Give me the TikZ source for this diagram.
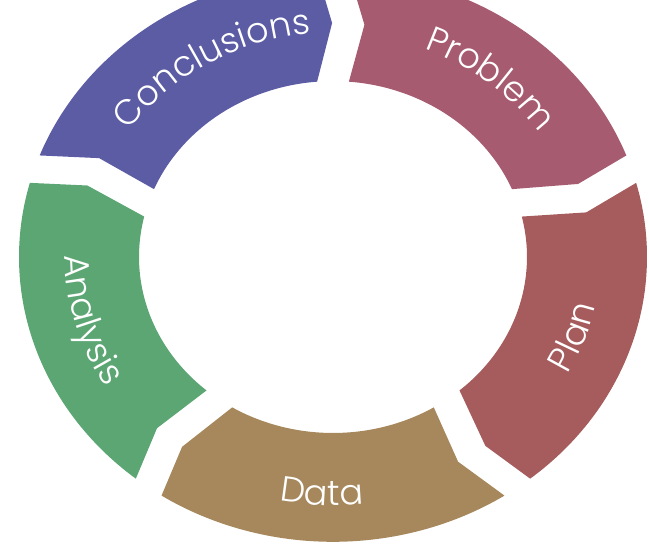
\documentclass[tikz,border=0pt]{standalone}
\usepackage{fontspec}
\setmainfont{Poppins}[UprightFont={* Light}]
\usetikzlibrary{decorations.text}
\definecolor{problemcol}{HTML}{A65B70}
\definecolor{plancol}{HTML}{A65C5C}
\definecolor{datacol}{HTML}{A6885C}
\definecolor{analysiscol}{HTML}{5CA674}
\definecolor{conclcol}{HTML}{5B5CA4}
\begin{document}
\begin{tikzpicture}[x=0.3mm,y=0.2721mm]
\tikzset{ringtext/.style={decorate,decoration={text along path,text align=center,
    text color=white,text={|\fontsize{30}{36}\selectfont|#1}}}}
\useasboundingbox (-333,-318.6) rectangle (316,283.4);
\clip (-333,-318.6) rectangle (316,283.4);
% ring parts, clockwise from the top
\fill[problemcol] (87.1:314) arc[start angle=87.1,end angle=20.9,radius=314]
    -- (18.2:258) -- (22.7:194) arc[start angle=22.7,end angle=85.3,radius=194]
    -- (83:258) -- cycle;
\fill[plancol] (15.1:314) arc[start angle=15.1,end angle=-51.1,radius=314]
    -- (-53.8:258) -- (-49.3:194) arc[start angle=-49.3,end angle=13.3,radius=194]
    -- (11:258) -- cycle;
\fill[datacol] (-56.9:314) arc[start angle=-56.9,end angle=-123.1,radius=314]
    -- (-125.8:258) -- (-121.3:194) arc[start angle=-121.3,end angle=-58.7,radius=194]
    -- (-61:258) -- cycle;
\fill[analysiscol] (231.1:314) arc[start angle=231.1,end angle=164.9,radius=314]
    -- (162.2:258) -- (166.7:194) arc[start angle=166.7,end angle=229.3,radius=194]
    -- (227:258) -- cycle;
\fill[conclcol] (159.1:314) arc[start angle=159.1,end angle=92.9,radius=314]
    -- (90.2:258) -- (94.7:194) arc[start angle=94.7,end angle=157.3,radius=194]
    -- (155:258) -- cycle;
% labels
\path[ringtext=Problem] (90:247) arc[start angle=90,end angle=10,radius=247];
\path[ringtext=Plan] (-59.5:268) arc[start angle=-59.5,end angle=20.5,radius=268];
\path[ringtext=Data] (-132.5:274) arc[start angle=-132.5,end angle=-52.5,radius=274];
\path[ringtext=Analysis] (155.5:268) arc[start angle=155.5,end angle=235.5,radius=268];
\path[ringtext=Conclusions] (161:247) arc[start angle=161,end angle=81,radius=247];
\end{tikzpicture}
\end{document}
